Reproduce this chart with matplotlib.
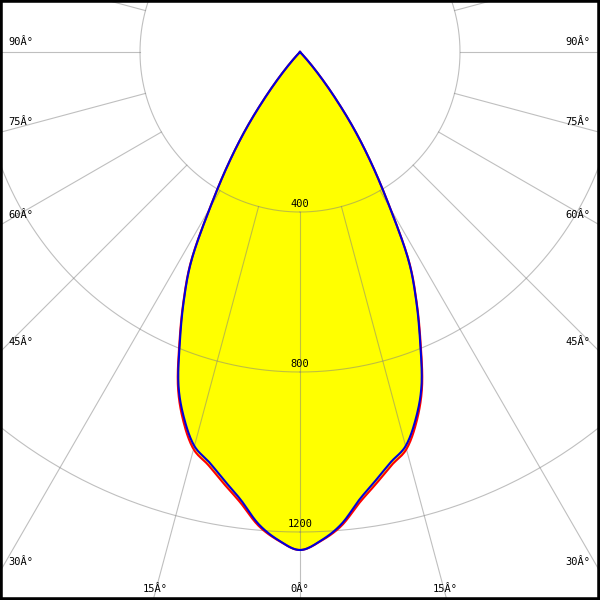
import numpy as np
import matplotlib
matplotlib.use("Agg")
import matplotlib.pyplot as plt

# gamma angles (deg, from nadir) and luminous intensity (cd)
theta = [0, 2.5, 5, 7.5, 10, 12.5, 15, 17.5, 20, 22.5, 25, 27.5, 30,
         32.5, 35, 37.5, 40, 42.5, 45]
c0_c180 = [1245, 1222, 1185, 1130, 1088, 1050, 1020, 962, 888, 785, 688,
           588, 450, 338, 238, 142, 68, 20, 0]
c90_c270 = [1245, 1223, 1189, 1137, 1096, 1058, 1028, 969, 892, 788, 690,
            590, 451, 338, 238, 142, 68, 20, 0]

ring_values = [400, 800, 1200]
ring_labels = ["400", "800", "1200"]
spoke_angles = list(range(-180, 181, 15))
edge_labels = {-90: "90Â°", -75: "75Â°", -60: "60Â°", -45: "45Â°", -30: "30Â°",
               -15: "15Â°", 0: "0Â°", 15: "15Â°", 30: "30Â°", 45: "45Â°",
               60: "60Â°", 75: "75Â°", 90: "90Â°"}

XL = (-750, 750)
YL = (-1370, 130)

fig = plt.figure(figsize=(6, 6), dpi=100)
ax = fig.add_axes([0, 0, 1, 1])
ax.set_xlim(*XL)
ax.set_ylim(*YL)
ax.set_xticks([])
ax.set_yticks([])
for s in ax.spines.values():
    s.set_linewidth(4)
    s.set_color("black")


def curve(th, vals, sub=12):
    """Mirror the half-plane data and draw it as a smooth (Catmull-Rom) line."""
    th = np.asarray(th, float)
    v = np.asarray(vals, float)
    t = np.concatenate([-th[::-1], th[1:]])
    r = np.concatenate([v[::-1], v[1:]])
    n = len(t)
    ts, rs = [], []
    for i in range(n - 1):
        r0 = r[max(i - 1, 0)]
        r1, r2 = r[i], r[i + 1]
        r3 = r[min(i + 2, n - 1)]
        m1 = (r2 - r0) / 2.0
        m2 = (r3 - r1) / 2.0
        s = np.linspace(0, 1, sub, endpoint=False)
        h00 = 2 * s**3 - 3 * s**2 + 1
        h10 = s**3 - 2 * s**2 + s
        h01 = -2 * s**3 + 3 * s**2
        h11 = s**3 - s**2
        rs.append(np.clip(h00 * r1 + h10 * m1 + h01 * r2 + h11 * m2, 0, None))
        ts.append(t[i] + s * (t[i + 1] - t[i]))
    ts.append([t[-1]])
    rs.append([r[-1]])
    ts = np.deg2rad(np.concatenate(ts))
    rs = np.concatenate(rs)
    return rs * np.sin(ts), -rs * np.cos(ts)


xb, yb = curve(theta, c0_c180)
xr, yr = curve(theta, c90_c270)
ax.fill(xr, yr, color="#ffff00", zorder=1, lw=0)
ax.fill(xb, yb, color="#ffff00", zorder=1, lw=0)

# grid
tt = np.deg2rad(np.linspace(0, 360, 721))
for rv in ring_values:
    ax.plot(rv * np.sin(tt), -rv * np.cos(tt), color="#808080", alpha=0.5,
            lw=0.8, zorder=2)
for a in spoke_angles:
    ra = np.deg2rad(a)
    rr = np.array([ring_values[0], 3000])
    ax.plot(rr * np.sin(ra), -rr * np.cos(ra), color="#808080", alpha=0.5,
            lw=0.8, zorder=2)

ax.plot(xr, yr, color="#ff0000", lw=1.5, zorder=3)
ax.plot(xb, yb, color="#0000dd", lw=1.5, zorder=4)

font = dict(family="DejaVu Sans Mono", fontsize=7.5, color="black", zorder=6)
px = 0.72  # points per pixel

for rv, lab in zip(ring_values, ring_labels):
    ax.annotate(lab, xy=(0, -rv), xytext=(0, 8 * px), textcoords="offset points",
                ha="center", va="center", **font)

for a, lab in edge_labels.items():
    ra = np.deg2rad(a)
    dx, dy = np.sin(ra), -np.cos(ra)
    cands = []
    if dx > 1e-9:
        cands.append(XL[1] / dx)
    if dx < -1e-9:
        cands.append(XL[0] / dx)
    if dy < -1e-9:
        cands.append(YL[0] / dy)
    t = min(cands)
    hx, hy = t * dx, t * dy
    if abs(hy - YL[0]) < 1e-6:
        ax.annotate(lab, xy=(hx, hy), xytext=(-2 * px * np.sign(a), 11 * px),
                    textcoords="offset points", ha="center", va="center", **font)
    elif a < 0:
        ax.annotate(lab, xy=(hx, hy), xytext=(8 * px, 10 * px),
                    textcoords="offset points", ha="left", va="center", **font)
    else:
        ax.annotate(lab, xy=(hx, hy), xytext=(-10 * px, 10 * px),
                    textcoords="offset points", ha="right", va="center", **font)

fig.savefig("out.png", dpi=100)
